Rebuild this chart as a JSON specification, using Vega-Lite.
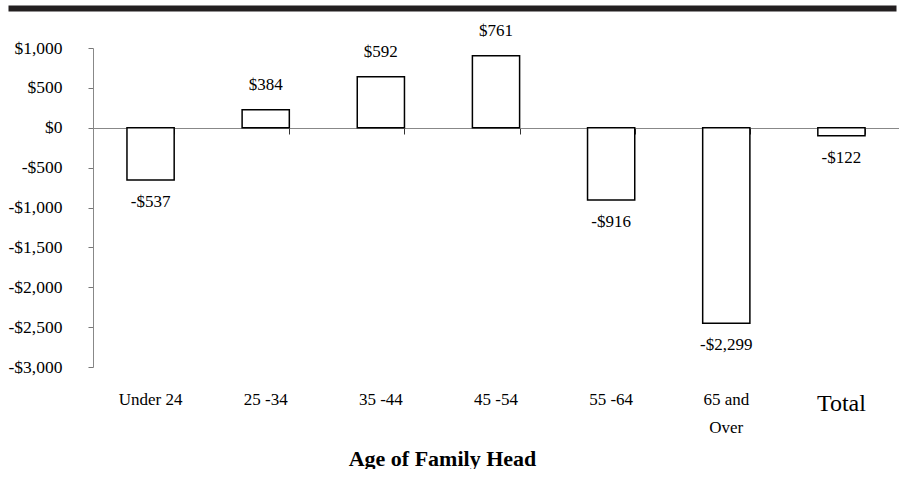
{
  "$schema": "https://vega.github.io/schema/vega-lite/v6.json",
  "padding": {"left": 8, "top": 2, "right": 0, "bottom": 0},
  "background": "white",
  "config": {
    "font": "Liberation Serif",
    "view": {"stroke": null},
    "axis": {"labelFont": "Liberation Serif", "titleFont": "Liberation Serif", "labelColor": "black", "titleColor": "black", "grid": false},
    "axisY": {
      "title": null, "values": [-3000, -2500, -2000, -1500, -1000, -500, 0, 500, 1000],
      "labelExpr": "datum.value < 0 ? '-$' + format(-datum.value, ',') : '$' + format(datum.value, ',')",
      "labelFontSize": 17.5, "labelPadding": 26, "tickSize": 5, "tickColor": "#777", "domainColor": "#888", "domainWidth": 1
    }
  },
  "bounds": "full",
  "spacing": 7,
  "vconcat": [
    {
      "width": 806,
      "height": 1,
      "data": {"values": [{"a": 0}, {"a": 1}]},
      "mark": {"type": "text", "text": ""},
      "encoding": {
        "x": {
          "field": "a", "type": "quantitative",
          "scale": {"domain": [0, 1], "range": [-85, 803]},
          "axis": {"orient": "top", "domain": true, "domainColor": "#231f20", "domainWidth": 6, "ticks": false, "labels": false, "title": null, "grid": false}
        }
      }
    },
    {
      "width": 806,
      "height": 319,
      "data": {
        "values": [
          {"age": "Under 24", "value": -655, "label": "-$537"},
          {"age": "25 -34", "value": 226, "label": "$384"},
          {"age": "35 -44", "value": 639, "label": "$592"},
          {"age": "45 -54", "value": 902, "label": "$761"},
          {"age": "55 -64", "value": -905, "label": "-$916"},
          {"age": "65 and Over", "value": -2452, "label": "-$2,299"},
          {"age": "Total", "value": -100, "label": "-$122"}
        ]
      },
      "resolve": {"axis": {"x": "independent"}},
      "layer": [
        {
          "mark": {"type": "bar", "fill": "white", "stroke": "black", "strokeWidth": 1.5},
          "encoding": {
            "x": {
              "field": "age", "type": "nominal", "sort": null,
              "scale": {"paddingInner": 0.59, "paddingOuter": 0.295},
              "axis": {"orient": "bottom", "offset": -239, "labels": false, "title": null, "domain": true, "domainColor": "#888", "domainWidth": 1, "ticks": true, "tickBand": "extent", "tickSize": 6, "tickColor": "#333", "tickWidth": 1}
            },
            "y": {
              "field": "value", "type": "quantitative",
              "scale": {"domain": [-3000, 1000], "nice": false}
            }
          }
        },
        {
          "transform": [{"filter": "datum.value >= 0"}],
          "mark": {"type": "text", "baseline": "middle", "dy": -25, "fontSize": 17, "font": "Liberation Serif", "color": "black"},
          "encoding": {
            "x": {"field": "age", "type": "nominal", "sort": null, "axis": null},
            "y": {"field": "value", "type": "quantitative"},
            "text": {"field": "label"}
          }
        },
        {
          "transform": [{"filter": "datum.value < 0"}],
          "mark": {"type": "text", "baseline": "middle", "dy": 22, "fontSize": 17, "font": "Liberation Serif", "color": "black"},
          "encoding": {
            "x": {
              "field": "age", "type": "nominal", "sort": null,
              "axis": {
                "orient": "bottom", "domain": false, "ticks": false, "labelAngle": 0,
                "labelPadding": 24, "labelFontSize": {"condition": {"test": "datum.value == 'Total'", "value": 24}, "value": 17},
                "labelExpr": "datum.value == '65 and Over' ? ['65 and', 'Over'] : datum.value",
                "labelLineHeight": 28,
                "title": "Age of Family Head", "titleFontSize": 22, "titleFontWeight": "bold", "titlePadding": 13,
                "titleX": 349, "titleAlign": "center"
              }
            },
            "y": {"field": "value", "type": "quantitative"},
            "text": {"field": "label"}
          }
        }
      ]
    }
  ]
}
